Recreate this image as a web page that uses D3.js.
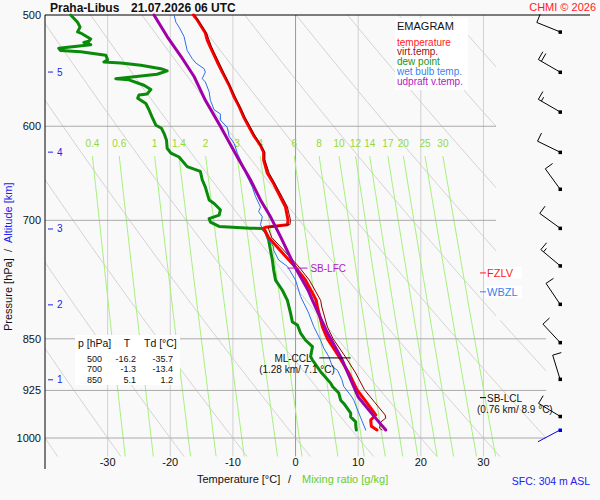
<!DOCTYPE html>
<html>
<head>
<meta charset="utf-8">
<script src="https://cdn.jsdelivr.net/npm/d3@7"></script>
<style>
  body { margin: 0; background: #f9f9f9; }
  svg { display: block; font-family: "Liberation Sans", Arial, sans-serif; }
</style>
</head>
<body>
<svg id="chart" width="600" height="500"></svg>
<script>
// --- sounding data (pressure hPa / temperature °C) ---
const tempP = [500, 504, 515, 521, 527, 540, 549, 561, 572, 581, 592, 601, 609, 619, 626, 634, 648, 659, 674, 685, 700, 705, 708, 709, 720, 735, 756, 772, 798, 807, 834, 850, 876, 899, 924, 944, 963, 971, 981, 987];
const tempT = [-16.3, -15.7, -14.4, -14.1, -13.6, -12.5, -11.7, -10.6, -9.8, -9.0, -8.2, -7.4, -6.7, -5.6, -5.1, -5.1, -4.5, -3.5, -2.4, -1.6, -1.2, -1.3, -4.8, -5.1, -4.3, -2.5, 0.0, 1.6, 3.3, 3.5, 4.3, 5.1, 7.0, 8.5, 9.8, 11.4, 12.8, 12.0, 12.1, 13.0];

const virtP = [500, 515, 527, 549, 572, 592, 609, 626, 634, 648, 674, 685, 700, 705, 708, 720, 735, 756, 772, 798, 807, 834, 850, 876, 899, 924, 944, 963, 968, 974, 984, 987];
const virtT = [-16.1, -14.2, -13.4, -11.5, -9.6, -8.0, -6.5, -4.9, -4.9, -4.2, -2.1, -1.3, -0.8, -0.9, -4.4, -3.8, -1.9, 0.6, 2.2, 4.0, 4.2, 5.1, 6.0, 8.0, 9.6, 11.0, 12.7, 14.3, 14.4, 13.6, 13.4, 13.8];

const dewP = [500, 506, 510, 514, 515, 520, 522, 523, 525, 528, 530, 531, 534, 538, 540, 541, 543, 546, 548, 551, 555, 556, 561, 565, 569, 570, 573, 578, 584, 591, 599, 602, 607, 614, 622, 627, 631, 641, 646, 655, 663, 670, 677, 681, 688, 694, 698, 702, 707, 709, 709.5, 713, 723, 735, 747, 759, 772, 785, 798, 815, 827, 831, 842, 852, 861, 875, 880, 897, 914, 919, 929, 940, 945, 960, 966, 974, 979, 987];
const dewT = [-35.9, -34.8, -34.4, -34.8, -34.3, -32.7, -33.0, -33.8, -32.7, -37.8, -37.5, -34.3, -30.3, -30.0, -30.6, -27.9, -24.7, -21.5, -20.5, -22.1, -28.7, -26.6, -24.2, -23.1, -23.7, -25.0, -25.2, -23.9, -23.4, -22.9, -22.3, -21.4, -21.0, -20.6, -20.5, -19.9, -18.6, -17.3, -15.2, -14.9, -14.4, -14.1, -13.8, -13.0, -12.0, -12.2, -13.8, -13.6, -12.2, -7.2, -5.3, -4.8, -4.3, -4.0, -3.7, -3.5, -3.2, -2.1, -1.3, -0.8, -0.5, 0.3, 0.8, 1.6, 2.7, 2.4, 2.7, 4.0, 5.6, 5.9, 6.9, 7.2, 7.7, 8.8, 8.8, 9.6, 9.6, 9.7];

const wetP = [500, 506, 510, 518, 530, 537, 541, 546, 549, 555, 558, 567, 575, 584, 588, 594, 601, 610, 617, 627, 634, 652, 663, 673, 685, 690, 696, 705, 709, 723, 731, 735, 747, 755, 772, 793, 815, 833, 852, 863, 875, 890, 895, 909, 919, 935, 940, 960, 987];
const wetT = [-19.4, -19.1, -18.6, -17.8, -17.3, -16.5, -15.9, -14.6, -14.4, -14.9, -14.4, -13.8, -13.6, -13.0, -12.0, -12.0, -10.9, -10.6, -9.8, -9.3, -8.8, -7.7, -6.9, -6.4, -5.6, -5.9, -5.3, -5.6, -5.3, -4.3, -3.5, -3.5, -2.7, -1.3, 0.0, 0.8, 2.1, 2.9, 4.0, 4.5, 5.3, 5.9, 6.7, 7.4, 7.7, 9.0, 9.3, 10.1, 11.2];

const parcelP = [500, 518, 535, 553, 575, 600, 631, 655, 677, 696, 719, 757, 785, 798, 842, 877, 935, 960, 987];
const parcelT = [-22.6, -20.5, -18.3, -16.2, -14.4, -12.0, -9.3, -7.2, -5.6, -4.0, -2.4, 0.0, 2.0, 2.7, 5.1, 7.3, 10.0, 12.1, 14.4];

// --- grid values ---
const isotherms = [-30, -20, -10, 0, 10, 20, 30];
const isobars = [600, 700, 850, 925, 1000];
const pressureTicks = [500, 600, 700, 850, 925, 1000];
const mixRatios = [0.4, 0.6, 1, 1.4, 2, 3, 4, 6, 8, 10, 12, 14, 17, 20, 25, 30];
const thetas = d3.range(-40, 101, 10);

// --- altitude marks (km) and wind ---
const altKm = [1, 2, 3, 4, 5];
const altP = [909, 804, 710, 626, 549];
const windP = [987, 965, 908, 855, 803, 754, 709, 665, 626, 586, 549, 514];
const windDir = [242, 301, 343, 317, 326, 310, 306, 324, 296, 300, 300, 292];
const windKt = [3, 10, 10, 10, 10, 15, 10, 10, 10, 15, 20, 10];

// --- table & legend ---
const tableP = ["500", "700", "850"];
const tableT = ["-16.2", "-1.3", "5.1"];
const tableTd = ["-35.7", "-13.4", "1.2"];
const legendNames = ["temperature", "virt.temp.", "dew point", "wet bulb temp.", "udpraft v.temp."];
const legendColors = ["#ff1a1a", "#a01010", "#1a921a", "#3a7ff0", "#b020c0"];

// --- levels ---
const lfcP = 757, cclP = 877, lclP = 936, fzlP = 763, wbzP = 787;

const svg = d3.select("#chart");
const x = d3.scaleLinear().domain([-40, 32]).range([45, 496]);
const y = d3.scaleLog().domain([1000, 500]).range([438, 15]);
const pBot = 1031;

svg.append("rect").attr("width", 600).attr("height", 500).attr("fill", "#f9f9f9");

const clip = svg.append("defs").append("clipPath").attr("id", "plot");
clip.append("rect").attr("x", x(-40)).attr("y", y(500)).attr("width", x(32) - x(-40)).attr("height", y(pBot) - y(500));
clip.append("rect").attr("x", x(32)).attr("y", y(825)).attr("width", x(40) - x(32)).attr("height", y(pBot) - y(825));

const grid = svg.append("g").attr("clip-path", "url(#plot)");

// dry adiabats
const adiabatP = d3.range(pBot, 495, -5);
const lineTP = d3.line().x(d => x(d[1])).y(d => y(d[0]));
thetas.forEach(th => {
    const pts = adiabatP.map(p => [p, (th + 273.15) * Math.pow(p / 1000, 0.286) - 273.15]);
    grid.append("path").attr("d", lineTP(pts)).attr("fill", "none")
        .attr("stroke", "#d2d2d2").attr("stroke-width", 1);
});

// isotherms
isotherms.forEach(t => {
    grid.append("line").attr("x1", x(t)).attr("x2", x(t)).attr("y1", y(500)).attr("y2", y(pBot))
        .attr("stroke", t === 0 ? "#999" : "#d0d0d0").attr("stroke-width", 1);
});

// mixing ratio lines
function dewFromMix(w, p) {
    const e = w * p / (622 + w);
    const l = Math.log(e / 6.112);
    return 243.5 * l / (17.67 - l);
}
const mixTop = 630;
mixRatios.forEach(w => {
    const pts = d3.range(mixTop, pBot + 1, 10).map(p => [p, dewFromMix(w, p)]);
    pts.push([pBot, dewFromMix(w, pBot)]);
    grid.append("path").attr("d", lineTP(pts)).attr("fill", "none")
        .attr("stroke", "#a6f07e").attr("stroke-width", 1);
    svg.append("text").attr("x", x(dewFromMix(w, mixTop))).attr("y", y(mixTop) - 9)
        .attr("text-anchor", "middle").attr("font-size", 10).attr("fill", "#96d83a").text(w);
});

// isobars
isobars.forEach(p => {
    svg.append("line").attr("x1", x(-40)).attr("x2", p >= 800 ? x(40) : x(32))
        .attr("y1", y(p)).attr("y2", y(p)).attr("stroke", "#aaa").attr("stroke-width", 1);
});

// axes frame
svg.append("line").attr("x1", x(-40)).attr("x2", 590).attr("y1", y(500)).attr("y2", y(500)).attr("stroke", "#000");
svg.append("line").attr("x1", x(-40)).attr("x2", x(-40)).attr("y1", y(500)).attr("y2", 469).attr("stroke", "#000");

// pressure labels
pressureTicks.forEach(p => {
    svg.append("text").attr("x", 41).attr("y", y(p)).attr("dy", "0.35em").attr("text-anchor", "end")
        .attr("font-size", 11).attr("fill", "#111").text(p);
});
// temperature labels
isotherms.forEach(t => {
    svg.append("text").attr("x", x(t)).attr("y", 466).attr("text-anchor", "middle")
        .attr("font-size", 11).attr("fill", "#111").text(t);
});
// altitude marks
altKm.forEach((k, i) => {
    svg.append("line").attr("x1", 48).attr("x2", 53).attr("y1", y(altP[i])).attr("y2", y(altP[i]))
        .attr("stroke", "#2222ee");
    svg.append("text").attr("x", 57).attr("y", y(altP[i])).attr("dy", "0.35em")
        .attr("font-size", 10).attr("fill", "#2222ee").text(k);
});

// table box
svg.append("rect").attr("x", 75).attr("y", 335).attr("width", 105).attr("height", 50).attr("fill", "#fff");
svg.append("text").attr("x", 78).attr("y", 347).attr("font-size", 10.5).attr("fill", "#111").text("p [hPa]");
svg.append("text").attr("x", 127).attr("y", 347).attr("text-anchor", "middle").attr("font-size", 10.5).attr("fill", "#111").text("T");
svg.append("text").attr("x", 144).attr("y", 347).attr("font-size", 10.5).attr("fill", "#111").text("Td [°C]");
tableP.forEach((p, i) => {
    const ty = 361.5 + i * 10.5;
    const row = svg.append("g").attr("font-size", 9).attr("fill", "#111").attr("text-anchor", "end");
    row.append("text").attr("x", 102).attr("y", ty).text(p);
    row.append("text").attr("x", 136).attr("y", ty).text(tableT[i]);
    row.append("text").attr("x", 173).attr("y", ty).text(tableTd[i]);
});

// legend box
svg.append("rect").attr("x", 395).attr("y", 18).attr("width", 73).attr("height", 72).attr("fill", "#fff");
svg.append("text").attr("x", 397).attr("y", 30).attr("font-size", 11).attr("fill", "#111").text("EMAGRAM");
legendNames.forEach((n, i) => {
    svg.append("text").attr("x", 397).attr("y", 45.5 + i * 9.9).attr("font-size", 10)
        .attr("fill", legendColors[i]).text(n);
});

// level labels on the right (white boxes)
[[fzlP, "FZLV", "#ff1a1a"], [wbzP, "WBZL", "#3a7ff0"]].forEach(([p, s, c]) => {
    svg.append("rect").attr("x", 485).attr("y", y(p) - 6).attr("width", 37).attr("height", 12).attr("fill", "#fff");
    svg.append("line").attr("x1", 480).attr("x2", 486).attr("y1", y(p)).attr("y2", y(p)).attr("stroke", c);
    svg.append("text").attr("x", 487).attr("y", y(p)).attr("dy", "0.35em").attr("font-size", 11).attr("fill", c).text(s);
});

// profiles
const toPts = (ps, ts) => ps.map((p, i) => [p, ts[i]]);
const prof = svg.append("g").attr("fill", "none").attr("stroke-linejoin", "round").attr("stroke-linecap", "round");
prof.append("path").attr("d", lineTP(toPts(dewP, dewT))).attr("stroke", "#0a8a0a").attr("stroke-width", 3);
prof.append("path").attr("d", lineTP(toPts(wetP, wetT))).attr("stroke", "#2a6ff0").attr("stroke-width", 1);
prof.append("path").attr("d", lineTP(toPts(tempP, tempT))).attr("stroke", "#ff0000").attr("stroke-width", 3);
prof.append("path").attr("d", lineTP(toPts(virtP, virtT))).attr("stroke", "#8a0000").attr("stroke-width", 1);
prof.append("path").attr("d", lineTP(toPts(parcelP, parcelT))).attr("stroke", "#a000a8").attr("stroke-width", 3);

// SB-LFC
svg.append("line").attr("x1", x(-1.3)).attr("x2", x(1.9)).attr("y1", y(lfcP)).attr("y2", y(lfcP)).attr("stroke", "#b020c0");
svg.append("text").attr("x", x(1.9) + 3).attr("y", y(lfcP)).attr("dy", "0.35em").attr("font-size", 10).attr("fill", "#b020c0").text("SB-LFC");

// ML-CCL
svg.append("line").attr("x1", x(3.8)).attr("x2", x(8.8)).attr("y1", y(cclP)).attr("y2", y(cclP)).attr("stroke", "#000");
svg.append("text").attr("x", 293).attr("y", y(cclP) + 1).attr("dy", "0.35em").attr("text-anchor", "middle").attr("font-size", 10).attr("fill", "#111").text("ML-CCL");
svg.append("text").attr("x", 297).attr("y", y(cclP) + 12).attr("dy", "0.35em").attr("text-anchor", "middle").attr("font-size", 10).attr("fill", "#111").text("(1.28 km/ 7.1 °C)");

// SB-LCL
svg.append("line").attr("x1", 480).attr("x2", 486).attr("y1", y(lclP)).attr("y2", y(lclP)).attr("stroke", "#000");
svg.append("text").attr("x", 487).attr("y", y(lclP) + 1).attr("dy", "0.35em").attr("font-size", 10).attr("fill", "#111").text("SB-LCL");
svg.append("text").attr("x", 477).attr("y", y(lclP) + 12).attr("dy", "0.35em").attr("font-size", 10).attr("fill", "#111").text("(0.76 km/ 8.9 °C)");

// wind barbs
const barbX = 560, shaft = 25, feather = 9;
windP.forEach((p, i) => {
    const by = y(p);
    const a = windDir[i] * Math.PI / 180;
    const ux = Math.sin(a), uy = -Math.cos(a);
    const px = Math.cos(a), py = Math.sin(a);
    const col = i === 0 ? "#0000ee" : "#000";
    const g = svg.append("g").attr("stroke", col).attr("stroke-width", 1).attr("fill", "none");
    const ex = barbX + ux * shaft, ey = by + uy * shaft;
    g.append("line").attr("x1", barbX).attr("y1", by).attr("x2", ex).attr("y2", ey);
    let kt = windKt[i], k = 0;
    while (kt >= 10) {
        const sx = ex - ux * k * 3.5, sy = ey - uy * k * 3.5;
        g.append("line").attr("x1", sx).attr("y1", sy).attr("x2", sx + px * feather).attr("y2", sy + py * feather);
        kt -= 10; k++;
    }
    if (kt >= 5) {
        const sx = ex - ux * k * 3.5, sy = ey - uy * k * 3.5;
        g.append("line").attr("x1", sx).attr("y1", sy).attr("x2", sx + px * feather / 2).attr("y2", sy + py * feather / 2);
    }
    svg.append("rect").attr("x", barbX - 1.5).attr("y", by - 1.5).attr("width", 3.5).attr("height", 3.5).attr("fill", col);
});

// titles
svg.append("text").attr("x", 50).attr("y", 12).attr("font-size", 12).attr("font-weight", "bold").attr("fill", "#111").text("Praha-Libus");
svg.append("text").attr("x", 131).attr("y", 12).attr("font-size", 12).attr("font-weight", "bold").attr("fill", "#111").text("21.07.2026 06 UTC");
svg.append("text").attr("x", 596).attr("y", 11).attr("text-anchor", "end").attr("font-size", 11).attr("fill", "#ff1a1a").text("CHMI © 2026");

svg.append("text").attr("x", 197).attr("y", 483).attr("font-size", 11).attr("fill", "#111").text("Temperature [°C]");
svg.append("text").attr("x", 288).attr("y", 483).attr("font-size", 11).attr("fill", "#111").text("/");
svg.append("text").attr("x", 302).attr("y", 483).attr("font-size", 11).attr("fill", "#66cc33").text("Mixing ratio [g/kg]");
svg.append("text").attr("x", 590).attr("y", 485).attr("text-anchor", "end").attr("font-size", 10.5).attr("fill", "#2222ee").text("SFC: 304 m ASL");

const yt = svg.append("g").attr("transform", "translate(12,331) rotate(-90)").attr("font-size", 11);
yt.append("text").attr("x", 0).attr("y", 0).attr("fill", "#111").text("Pressure [hPa]");
yt.append("text").attr("x", 79).attr("y", 0).attr("fill", "#111").text("/");
yt.append("text").attr("x", 88).attr("y", 0).attr("fill", "#2222ee").text("Altitude [km]");
</script>
</body>
</html>
